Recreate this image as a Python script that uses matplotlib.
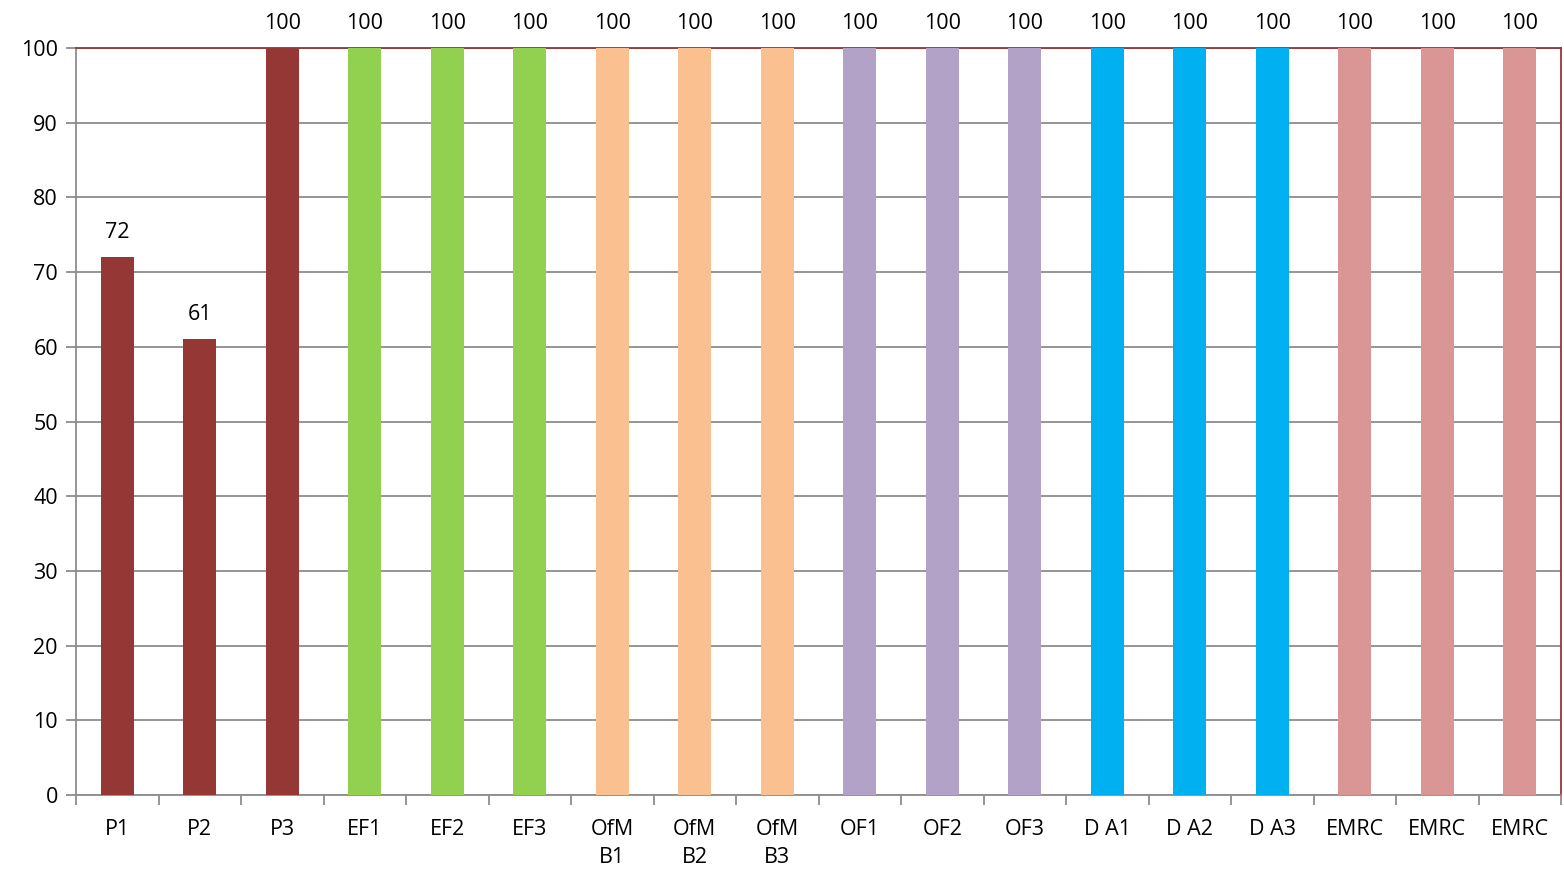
import numpy as np
import matplotlib.pyplot as plt

plt.rcParams['font.family'] = ['Open Sans', 'DejaVu Sans']

categories = ["P1", "P2", "P3", "EF1", "EF2", "EF3",
              "OfM\nB1", "OfM\nB2", "OfM\nB3", "OF1", "OF2", "OF3",
              "D A1", "D A2", "D A3", "EMRC", "EMRC", "EMRC"]
values = [72, 61, 100, 100, 100, 100, 100, 100, 100,
          100, 100, 100, 100, 100, 100, 100, 100, 100]
group_colors = ["#953735"] * 3 + ["#92D050"] * 3 + ["#FAC090"] * 3 + \
               ["#B3A2C7"] * 3 + ["#00B0F0"] * 3 + ["#D99694"] * 3

fig = plt.figure(figsize=(15.64, 8.73), dpi=100)
ax = fig.add_axes([76 / 1564, 1 - 795 / 873, (1561 - 76) / 1564, (795 - 48) / 873])

x = np.arange(len(categories))
ax.bar(x, values, width=0.4, color=group_colors, zorder=3)

for xi, v in zip(x, values):
    ax.text(xi, v + 1.9, f"{v}", ha="center", va="bottom", fontsize=15.5)

ax.set_xlim(-0.5, len(categories) - 0.5)
ax.set_ylim(0, 100)
ax.set_yticks(range(0, 101, 10))
ax.yaxis.grid(True, color="#8c8c8c", linewidth=1.3, zorder=0)
ax.set_axisbelow(True)

# tick marks at category boundaries, labels centred on the bars
ax.set_xticks(np.arange(-0.5, len(categories), 1.0))
ax.set_xticklabels([])
ax.set_xticks(x, minor=True)
ax.set_xticklabels(categories, minor=True, fontsize=15.5, linespacing=1.45, va="top")
ax.tick_params(axis="x", which="major", length=7, width=1.3, color="#8c8c8c")
ax.tick_params(axis="x", which="minor", length=0, pad=17)
ax.tick_params(axis="y", length=7, width=1.3, color="#8c8c8c", labelsize=15.5, pad=6)

for side in ["left", "bottom"]:
    ax.spines[side].set_color("#8c8c8c")
    ax.spines[side].set_linewidth(1.3)
for side in ["top", "right"]:
    ax.spines[side].set_color("#953735")
    ax.spines[side].set_linewidth(1.3)

plt.savefig("out.png", dpi=100)
